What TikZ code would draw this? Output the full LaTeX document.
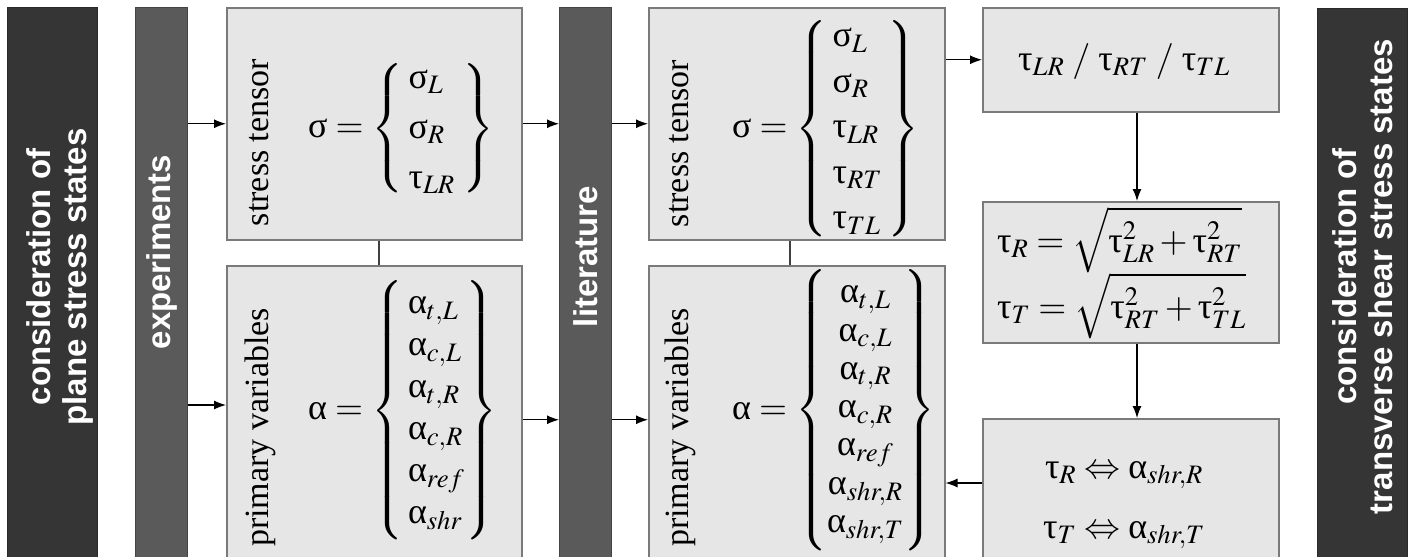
\documentclass[tikz,border=0pt]{standalone}
\usepackage{mathptmx}
\usepackage[no-math]{fontspec}
\setmainfont{Liberation Serif}
\newfontfamily\grk{Liberation Serif}
\newfontfamily\barfont{Liberation Sans}
\usetikzlibrary{arrows.meta}

\definecolor{bardark}{HTML}{353535}
\definecolor{barmid}{HTML}{5A5A5A}
\definecolor{boxfill}{HTML}{E6E6E6}
\definecolor{boxline}{HTML}{7A7A7A}

% upright Greek letters taken from the serif text font
\newcommand\gsig{\mbox{\grk σ}}
\newcommand\gtau{\mbox{\grk τ}}
\newcommand\galp{\mbox{\grk α}}
% brace of a fixed height around a (smashed) column of entries
\newcommand\bracecol[3]{\left\{\vcenter{\hbox{\rule{0pt}{#1}}}\smash{\begin{array}{#2}#3\end{array}}\right\}}

\delimiterfactor=1000
\delimitershortfall=0pt

\tikzset{
  sidebar/.style={fill=bardark, draw=bardark!80!black, line width=1pt, anchor=north west, inner sep=0pt},
  srcbar/.style={fill=barmid, draw=barmid!75!black, line width=1pt, anchor=north west, inner sep=0pt},
  stepbox/.style={fill=boxfill, draw=boxline, line width=1.5pt, anchor=north west, inner sep=0pt},
  arr/.style={-{Latex[length=12pt,width=9pt]}, line width=1.2pt},
  link/.style={line width=1.2pt, draw=black!75},
  boxlabel/.style={rotate=90, anchor=base, inner sep=0pt, font=\fontsize{34}{40}\selectfont},
  bartext/.style={rotate=90, text=white, inner sep=0pt, align=center,
                  font=\barfont\bfseries\fontsize{33}{36}\selectfont},
  eq/.style={inner sep=0pt, font=\fontsize{36}{44}\selectfont},
}

\begin{document}
\begin{tikzpicture}[x=1pt, y=-1pt]
\useasboundingbox (0,0) rectangle (1414,557);
\clip (0,0) rectangle (1414,557);

% vertical bars
\node[sidebar, minimum width=90pt, minimum height=570pt] (plane) at (7,7) {};
\node[srcbar, minimum width=52pt, minimum height=570pt] (exp) at (135,7) {};
\node[srcbar, minimum width=52pt, minimum height=570pt] (lit) at (559,7) {};
\node[sidebar, minimum width=90pt, minimum height=570pt] (shear) at (1317,8) {};

\node[bartext] (planetxt) at (59.5,277) {consideration of\\plane stress states};
\node[bartext] (exptxt) at (162,252) {experiments};
\node[bartext] (littxt) at (586,256.5) {literature};
\node[bartext] (sheartxt) at (1362.5,276.5) {consideration of\\transverse shear stress states};

% plane stress boxes
\node[stepbox, minimum width=295pt, minimum height=232pt] (st1) at (226,7) {};
\node[stepbox, minimum width=295pt, minimum height=308pt] (pv1) at (226,265) {};
% full stress boxes
\node[stepbox, minimum width=296pt, minimum height=232pt] (st2) at (648,7) {};
\node[stepbox, minimum width=296pt, minimum height=308pt] (pv2) at (648,265) {};
% transverse shear boxes
\node[stepbox, minimum width=296pt, minimum height=104pt] (tau) at (982,7) {};
\node[stepbox, minimum width=296pt, minimum height=141pt] (sq) at (982,201) {};
\node[stepbox, minimum width=296pt, minimum height=160pt] (map) at (982,418) {};

% rotated box labels
\node[boxlabel] (st1lab) at (268,142.5) {stress tensor};
\node[boxlabel] (pv1lab) at (268,427.5) {primary variables};
\node[boxlabel] (st2lab) at (688,143.5) {stress tensor};
\node[boxlabel] (pv2lab) at (688,427.5) {primary variables};

% stress and variable vectors
\node[eq, anchor=west, font=\fontsize{36}{50}\selectfont] (st1eq) at (308,128.5)
  {$\gsig=\bracecol{120pt}{l@{\hspace{8pt}}}{\gsig_L\\ \gsig_R\\ \gtau_{LR}}$};
\node[eq, anchor=west, font=\fontsize{36}{42}\selectfont] (pv1eq) at (308,410.5)
  {$\galp=\bracecol{240pt}{l@{\hspace{1pt}}}{\galp_{t,L}\\ \galp_{c,L}\\ \galp_{t,R}\\ \galp_{c,R}\\ \galp_{ref}\\ \galp_{shr}}$};
\node[eq, anchor=west, font=\fontsize{36}{45.5}\selectfont] (st2eq) at (732,128.5)
  {$\gsig=\bracecol{198pt}{l@{\hspace{6pt}}}{\gsig_L\\ \gsig_R\\ \gtau_{LR}\\ \gtau_{RT}\\ \gtau_{TL}}$};
\node[eq, anchor=west, font=\fontsize{36}{38.3}\selectfont] (pv2eq) at (732,410)
  {$\galp=\bracecol{266pt}{@{}c@{}}{\galp_{t,L}\\ \galp_{c,L}\\ \galp_{t,R}\\ \galp_{c,R}\\ \galp_{ref}\\ \galp_{shr,R}\\ \galp_{shr,T}}$};

% transverse shear relations
\node[eq, anchor=base] (taueq) at (1124,70)
  {$\gtau_{LR}\;/\;\gtau_{RT}\;/\;\gtau_{TL}$};
\node[eq, anchor=base west] (sqR) at (997,252)
  {$\gtau_R=\sqrt{\gtau^2_{LR}+\gtau^2_{RT}}$};
\node[eq, anchor=base west] (sqT) at (997,318)
  {$\gtau_T=\sqrt{\gtau^2_{RT}+\gtau^2_{TL}}$};
\node[eq, anchor=base] (mapR) at (1124,478)
  {$\gtau_R\Leftrightarrow\galp_{shr,R}$};
\node[eq, anchor=base] (mapT) at (1124,538)
  {$\gtau_T\Leftrightarrow\galp_{shr,T}$};

% connector positions
\coordinate (expin) at (0,405);
\coordinate (link1) at (379,0);
\coordinate (link2) at (790,0);
\coordinate (down) at (1137,0);
\coordinate (back) at (0,483);

% connectors
\draw[arr] (exp.east |- st1.west) -- (st1.west);
\draw[arr] (exp.east |- expin) -- (pv1.west |- expin);
\draw[arr] (st1.east) -- (lit.west |- st1.east);
\draw[arr] (pv1.east) -- (lit.west |- pv1.east);
\draw[arr] (lit.east |- st2.west) -- (st2.west);
\draw[arr] (lit.east |- pv2.west) -- (pv2.west);
\draw[link] (st1.south -| link1) -- (pv1.north -| link1);
\draw[link] (st2.south -| link2) -- (pv2.north -| link2);
\draw[arr] (st2.east |- tau.west) -- (tau.west);
\draw[arr] (tau.south -| down) -- (sq.north -| down);
\draw[arr] (sq.south -| down) -- (map.north -| down);
\draw[arr] (map.west |- back) -- (pv2.east |- back);
\end{tikzpicture}
\end{document}
